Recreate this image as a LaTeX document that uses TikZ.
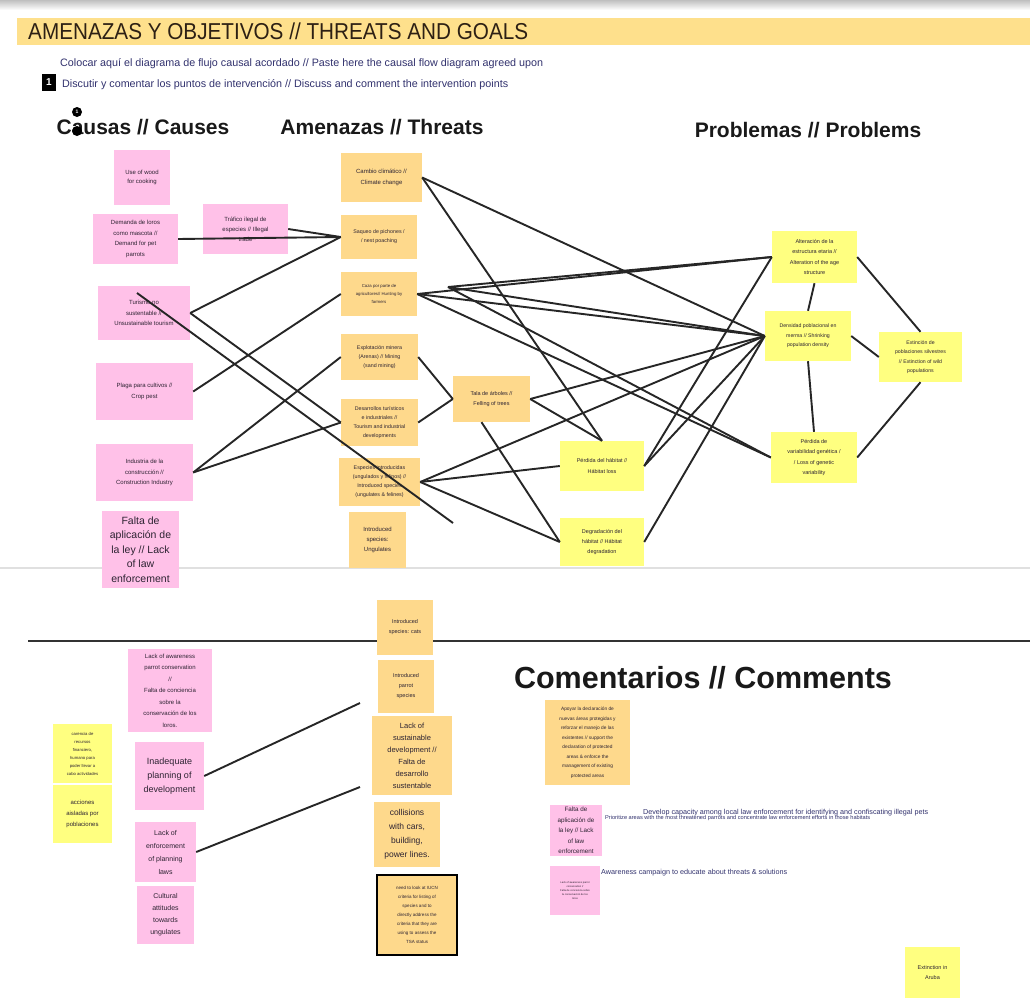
\documentclass[tikz,border=0pt]{standalone}
\usepackage{fontspec}
\usepackage{graphicx}
\setmainfont{Liberation Sans}
\newcommand{\setfs}[2]{\fontsize{#1}{#2}\selectfont}
\definecolor{pinkc}{RGB}{255,193,232}
\definecolor{orangec}{RGB}{254,217,140}
\definecolor{yellowc}{RGB}{255,255,128}
\definecolor{bandc}{RGB}{254,224,140}
\definecolor{notetext}{RGB}{45,35,50}
\definecolor{navytext}{RGB}{50,50,110}
\definecolor{titletext}{RGB}{45,32,20}
\tikzset{
  note/.style={inner sep=0pt, align=center, text=notetext},
  pk/.style={note, fill=pinkc},
  og/.style={note, fill=orangec},
  yl/.style={note, fill=yellowc},
  sz/.style 2 args={minimum width=#1pt, minimum height=#2pt},
  link/.style={line width=1.9pt, draw=black!85},
  heading/.style={font=\setfs{21}{24}\bfseries, text=black!90},
}
\begin{document}
\begin{tikzpicture}[x=1pt,y=-1pt]
\useasboundingbox (0,0) rectangle (1030,999);
\fill[white] (0,0) rectangle (1030,999);
\shade[top color=black!25, bottom color=white] (0,0) rectangle (1030,10);
% header
\fill[bandc] (17,18) rectangle (1030,45);
\node[anchor=base west, font=\setfs{23}{26}, text=titletext, inner sep=0pt] (title) at (28,39) {\scalebox{0.9}[1]{AMENAZAS Y OBJETIVOS // THREATS AND GOALS}};
\node[anchor=west, inner sep=0pt, text=navytext] (instr1) at (60,64) {\resizebox{483pt}{!}{Colocar aquí el diagrama de flujo causal acordado // Paste here the causal flow diagram agreed upon}};
\node[fill=black, text=white, font=\setfs{10}{10}\bfseries, sz={14}{17}, inner sep=0pt] (num1) at (49,82.5) {1};
\node[anchor=west, inner sep=0pt, text=navytext] (instr2) at (62,85) {\resizebox{446pt}{!}{Discutir y comentar los puntos de intervención // Discuss and comment the intervention points}};
% headings
\node[heading] (hcaus) at (143,127) {Causas // Causes};
\node[circle, fill=black, inner sep=0pt, minimum size=10pt, text=white, font=\setfs{5}{5}\bfseries] (m1) at (77,112) {1};
\node[circle, fill=black, inner sep=0pt, minimum size=10pt] (m2) at (77,131) {};
\node[heading] (hthr) at (382,127) {Amenazas // Threats};
\node[heading] (hprob) at (808,130) {Problemas // Problems};
% separators
\draw[black!12, line width=1.5pt] (0,568) -- (1030,568);
\draw[black!80, line width=1.8pt] (28,641) -- (1030,641);
% causes
\node[pk, sz={56}{55}, font=\setfs{6}{9.5}] (wood) at (142,177.5) {Use of wood\\for cooking};
\node[pk, sz={85}{50}, font=\setfs{6}{10.5}] (demanda) at (135.5,239) {Demanda de loros\\como mascota //\\Demand for pet\\parrots};
\node[pk, sz={85}{50}, font=\setfs{6}{10}] (trafico) at (245.5,229) {Tráfico ilegal de\\especies // Illegal\\trade};
\node[pk, sz={92}{54}, font=\setfs{6}{10.5}] (turismo) at (144,313) {Turismo no\\sustentable //\\Unsustainable tourism};
\node[pk, sz={97}{57}, font=\setfs{6}{11}] (plaga) at (144.5,391.5) {Plaga para cultivos //\\Crop pest};
\node[pk, sz={97}{57}, font=\setfs{6}{10.5}] (industria) at (144.5,472.5) {Industria de la\\construcción //\\Construction Industry};
\node[pk, sz={77}{77}, font=\setfs{10.5}{14.5}] (falta) at (140.5,549.5) {Falta de\\aplicación de\\la ley // Lack\\of law\\enforcement};
% threats
\node[og, sz={81}{49}, font=\setfs{6}{11}] (cambio) at (381.5,177.5) {Cambio climático //\\Climate change};
\node[og, sz={76}{44}, font=\setfs{5.3}{9}] (saqueo) at (379,237) {Saqueo de pichones /\\/ nest poaching};
\node[og, sz={76}{44}, font=\setfs{4.3}{8}] (caza) at (379,294) {Caza por parte de\\agricultores// Hunting by\\farmers};
\node[og, sz={77}{46}, font=\setfs{5.3}{9}] (explot) at (379.5,357) {Explotación minera\\(Arenas) // Mining\\(sand mining)};
\node[og, sz={77}{47}, font=\setfs{5.3}{9}] (desarr) at (379.5,422.5) {Desarrollos turísticos\\e industriales //\\Tourism and industrial\\developments};
\node[og, sz={81}{48}, font=\setfs{5.3}{9}] (especies) at (379.5,482) {Especies introducidas\\(ungulados y felinos) //\\Introduced species\\(ungulates \& felines)};
\node[og, sz={57}{56}, font=\setfs{6}{10}] (ungul) at (377.5,540) {Introduced\\species:\\Ungulates};
\node[og, sz={77}{46}, font=\setfs{5.5}{9.5}] (tala) at (491.5,399) {Tala de árboles //\\Felling of trees};
% problems
\node[yl, sz={85}{52}, font=\setfs{5.5}{10.5}] (alter) at (814.5,257) {Alteración de la\\estructura etaria //\\Alteration of the age\\structure};
\node[yl, sz={86}{50}, font=\setfs{5.2}{9.5}] (densidad) at (808,336) {Densidad poblacional en\\merma // Shrinking\\population density};
\node[yl, sz={83}{50}, font=\setfs{5.2}{9.5}] (extin) at (920.5,357) {Extinción de\\poblaciones silvestres\\// Extinction of wild\\populations};
\node[yl, sz={86}{51}, font=\setfs{5.5}{10.5}] (variab) at (814,457.5) {Pérdida de\\variabilidad genética /\\/ Loss of genetic\\variability};
\node[yl, sz={84}{50}, font=\setfs{5.5}{11}] (habitat) at (602,466) {Pérdida del hábitat //\\Hábitat loss};
\node[yl, sz={84}{48}, font=\setfs{5.5}{10}] (degrad) at (602,542) {Degradación del\\hábitat // Hábitat\\degradation};
% free points
\coordinate (c1) at (448,287);
\coordinate (t1) at (137,293);
\coordinate (t2) at (453,523);
% cause links
\draw[link] (demanda.east) -- (saqueo.west);
\draw[link] (trafico.east) -- (saqueo.west);
\draw[link] (turismo.east) -- (saqueo.west);
\draw[link] (turismo.east) -- (desarr.west);
\draw[link] (plaga.east) -- (caza.west);
\draw[link] (industria.east) -- (explot.west);
\draw[link] (industria.east) -- (desarr.west);
\draw[link] (t1) -- (t2);
% threat links
\draw[link] (explot.east) -- (tala.west);
\draw[link] (desarr.east) -- (tala.west);
\draw[link] (cambio.east) -- (densidad.west);
\draw[link] (cambio.east) -- (habitat.north);
\draw[link] (caza.east) -- (alter.west);
\draw[link] (c1) -- (alter.west);
\draw[link] (caza.east) -- (densidad.west);
\draw[link] (c1) -- (densidad.west);
\draw[link] (caza.east) -- (variab.west);
\draw[link] (c1) -- (variab.west);
\draw[link] (tala.east) -- (densidad.west);
\draw[link] (tala.east) -- (habitat.north);
\draw[link] ([xshift=-10pt]tala.south) -- (degrad.west);
\draw[link] (especies.east) -- (densidad.west);
\draw[link] (especies.east) -- (habitat.west);
\draw[link] (especies.east) -- (degrad.west);
\draw[link] (habitat.east) -- (alter.west);
\draw[link] (habitat.east) -- (densidad.west);
\draw[link] (degrad.east) -- (densidad.west);
% problem links
\draw[link] (alter.south) -- (densidad.north);
\draw[link] (densidad.south) -- (variab.north);
\draw[link] (alter.east) -- (extin.north);
\draw[link] (densidad.east) -- (extin.west);
\draw[link] (variab.east) -- (extin.south);
% bottom area
\node[og, sz={56}{55}, font=\setfs{5.5}{10}] (cats) at (405,627.5) {Introduced\\species: cats};
\node[og, sz={56}{53}, font=\setfs{5.5}{10}] (parrotsp) at (406,686.5) {Introduced\\parrot\\species};
\node[og, sz={80}{79}, font=\setfs{7.5}{12}] (lacksust) at (412,755.5) {Lack of\\sustainable\\development //\\Falta de\\desarrollo\\sustentable};
\node[og, sz={66}{65}, font=\setfs{8.5}{14}] (collis) at (407,834.5) {collisions\\with cars,\\building,\\power lines.};
\node[og, sz={80}{80}, font=\setfs{4.5}{9}, draw=black, line width=2.5pt] (iucn) at (417,915) {need to look at IUCN\\criteria for listing of\\species and to\\directly address the\\criteria that they are\\using to assess the\\TSA status};
\node[pk, sz={84}{83}, font=\setfs{6}{11.5}] (awareness) at (170,690.5) {Lack of awareness\\parrot conservation\\//\\Falta de conciencia\\sobre la\\conservación de los\\loros.};
\node[yl, sz={59}{59}, font=\setfs{4.2}{8}] (carencia) at (82.5,753.5) {carencia de\\recursos\\financiero,\\humano para\\poder llevar a\\cabo actividades};
\node[yl, sz={59}{58}, font=\setfs{6}{11}] (acciones) at (82.5,814) {acciones\\aisladas por\\poblaciones};
\node[pk, sz={69}{68}, font=\setfs{9}{14}] (inadequate) at (169.5,776) {Inadequate\\planning of\\development};
\node[pk, sz={61}{60}, font=\setfs{7}{13}] (lackenf) at (165.5,852) {Lack of\\enforcement\\of planning\\laws};
\node[pk, sz={57}{58}, font=\setfs{7}{12}] (cultural) at (165.5,915) {Cultural\\attitudes\\towards\\ungulates};
\coordinate (b1) at (360,703);
\coordinate (b2) at (360,787);
\draw[link] (inadequate.east) -- (b1);
\draw[link] (lackenf.east) -- (b2);
% comments
\node[font=\setfs{30.5}{33}\bfseries, text=black!90] (hcomm) at (703,678) {Comentarios // Comments};
\node[og, sz={85}{85}, font=\setfs{4.8}{9.5}] (apoyar) at (587.5,742.5) {Apoyar la declaración de\\nuevas áreas protegidas y\\reforzar el manejo de las\\existentes // support the\\declaration of protected\\areas \& enforce the\\management of existing\\protected areas};
\node[pk, sz={52}{51}, font=\setfs{6.3}{10.5}] (faltac) at (576,830.5) {Falta de\\aplicación de\\la ley // Lack\\of law\\enforcement};
\node[pk, sz={50}{49}, font=\setfs{2.6}{4}] (awarec) at (575,890.5) {Lack of awareness parrot\\conservation //\\Falta de conciencia sobre\\la conservación de los\\loros};
\node[anchor=west, inner sep=0pt, text=navytext] (develop1) at (643,812.5) {\resizebox{285pt}{!}{Develop capacity among local law enforcement for identifying and confiscating illegal pets}};
\node[anchor=west, inner sep=0pt, text=navytext] (develop2) at (605,818) {\resizebox{265pt}{!}{Prioritize areas with the most threatened parrots and concentrate law enforcement efforts in those habitats}};
\node[anchor=west, inner sep=0pt, text=navytext] (awaretxt) at (601,873) {\resizebox{186pt}{!}{Awareness campaign to educate about threats \& solutions}};
\node[yl, sz={55}{51}, font=\setfs{5.5}{10}] (aruba) at (932.5,972.5) {Extinction in\\Aruba};
\end{tikzpicture}
\end{document}
